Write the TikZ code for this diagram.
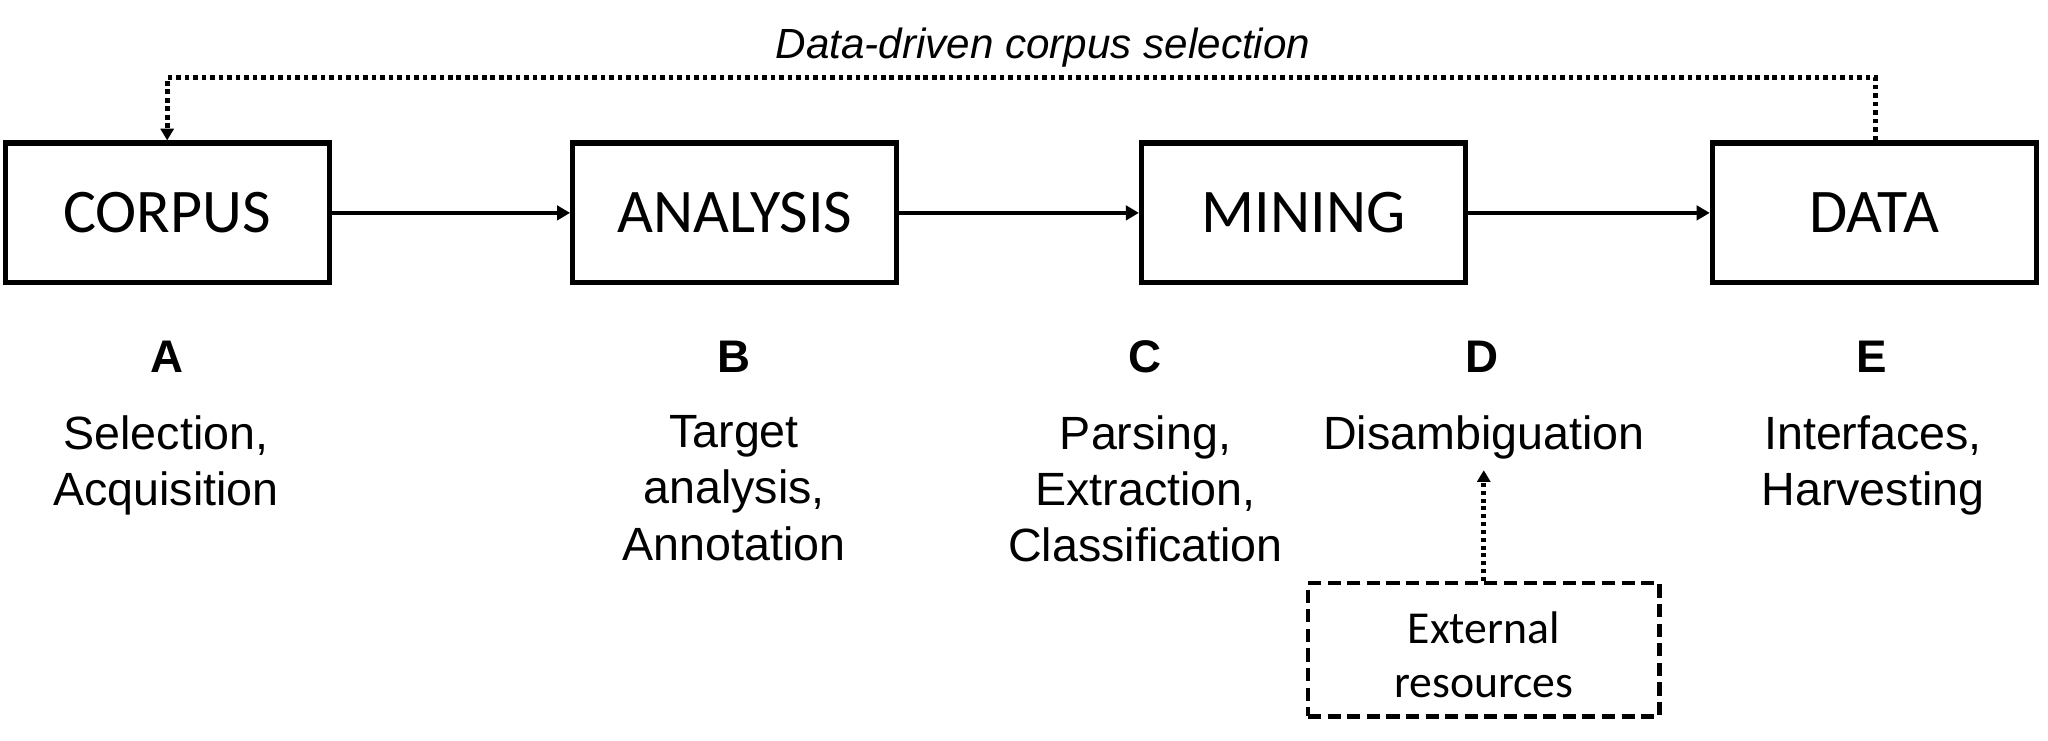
\documentclass[tikz,border=0pt]{standalone}
\usepackage{fontspec}
\setmainfont{Liberation Sans}
\newfontfamily\calfont{Carlito}
\usetikzlibrary{arrows.meta}
\begin{document}
\begin{tikzpicture}[x=1pt,y=-1pt,
  box/.style={draw,line width=4pt,minimum width=248pt,minimum height=107pt,inner sep=0pt,font=\calfont\fontsize{47.5}{57}\selectfont},
  flow/.style={line width=3.5pt,-{Triangle[length=10pt,width=11pt]}},
  dots/.style={line width=4pt,dash pattern=on 3.5pt off 3pt},
  letter/.style={font=\bfseries\fontsize{35}{42}\selectfont,anchor=base,inner sep=0pt},
  lab/.style={font=\fontsize{35.7}{43}\selectfont,align=center,anchor=north,inner sep=0pt},
  ext/.style={draw,line width=3.5pt,dash pattern=on 10pt off 5pt,minimum width=269pt,minimum height=102pt,inner sep=0pt},
  exttext/.style={align=center,inner sep=0pt,font=\calfont\fontsize{35}{41}\selectfont}]
\useasboundingbox (0,0) rectangle (1568,567);
\fill[white] (0,0) rectangle (1568,567);

\node[box] (corpus) at (128,163) {CORPUS};
\node[box] (analysis) at (562.5,163) {ANALYSIS};
\node[box] (mining) at (998,163) {MINING};
\node[box] (data) at (1435,163) {DATA};

\draw[flow] (corpus) -- (analysis);
\draw[flow] (analysis) -- (mining);
\draw[flow] (mining) -- (data);

\node[font=\itshape\fontsize{32.3}{38}\selectfont,anchor=base,inner sep=0pt] (title) at (798.5,44.6) {Data-driven corpus selection};
\draw[dots,-{Triangle[length=9pt,width=10pt]}] ([xshift=1pt]data.north) -- ++(0,-48) -| (corpus.north);

\node[letter] (la) at (128,285) {A};
\node[letter] (lb) at (562,285) {B};
\node[letter] (lc) at (877,285) {C};
\node[letter] (ld) at (1135,285) {D};
\node[letter] (le) at (1433,285) {E};

\node[lab] (ta) at (127,318) {Selection,\\Acquisition};
\node[lab] (tb) at (562,318) {Target\\analysis,\\Annotation};
\node[lab] (tc) at (877,318) {Parsing,\\Extraction,\\Classification};
\node[lab] (td) at (1136,318) {Disambiguation};
\node[lab] (te) at (1434,318) {Interfaces,\\Harvesting};

\node[ext] (ext) at (1136,497.5) {};
\node[exttext] (extlabel) at ([yshift=-4pt]ext.center) {External\\resources};
\coordinate (dtip) at (1136,360);
\draw[line width=3.5pt,dash pattern=on 3pt off 3pt,-{Triangle[length=9pt,width=10pt]}] (ext.north) -- (dtip);
\end{tikzpicture}
\end{document}
